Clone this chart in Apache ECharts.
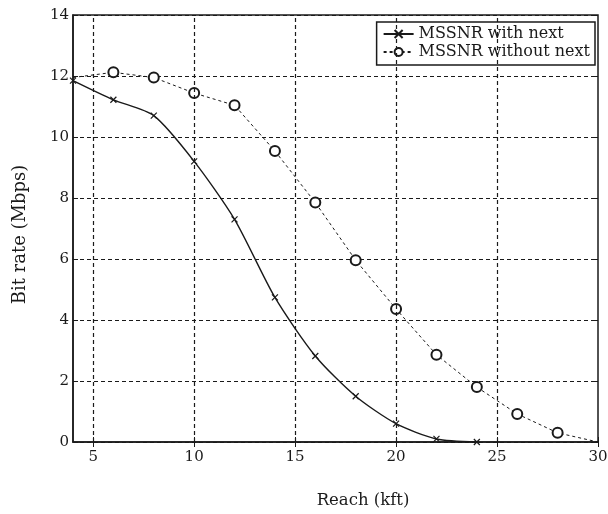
<!DOCTYPE html>
<html>
<head>
<meta charset="utf-8">
<script src="https://cdn.jsdelivr.net/npm/echarts@6/dist/echarts.min.js"></script>
<style>
  html, body { margin: 0; padding: 0; background: #fff; }
  #chart { width: 608px; height: 514px; }
</style>
</head>
<body>
<div id="chart"></div>
<script>
// 数据: Reach (kft) 与 Bit rate (Mbps)
const reachWithNext = [4, 6, 8, 10, 12, 14, 16, 18, 20, 22, 24]
const rateWithNext = [11.85, 11.22, 10.7, 9.2, 7.3, 4.74, 2.82, 1.5, 0.6, 0.1, 0.0]

const reachWithoutNext = [4, 6, 8, 10, 12, 14, 16, 18, 20, 22, 24, 26, 28, 30]
const rateWithoutNext = [11.95, 12.12, 11.95, 11.44, 11.04, 9.54, 7.85, 5.96, 4.36, 2.86, 1.8, 0.92, 0.3, 0.0]
// 端点无标记
const noMarkerWithout = [4, 30]

const xTickLabels = [5, 10, 15, 20, 25, 30]
const xGridLines = [5, 10, 15, 20, 25]

const FONT = 'DejaVu Serif'
const INK = '#1a1a1a'

const chart = echarts.init(document.getElementById('chart'))

const withNextData = reachWithNext.map((x, i) => [x, rateWithNext[i]])
const withoutNextData = reachWithoutNext.map((x, i) => {
  if (noMarkerWithout.includes(x)) {
    return { value: [x, rateWithoutNext[i]], symbol: 'none' }
  }
  return [x, rateWithoutNext[i]]
})

const option = {
  animation: false,
  backgroundColor: '#fff',
  textStyle: { fontFamily: FONT, color: INK },
  grid: {
    left: 73, right: 10, top: 15, bottom: 72,
    outerBoundsMode: 'none',
    show: true, borderColor: INK, borderWidth: 1.5, backgroundColor: 'transparent'
  },
  legend: {
    orient: 'vertical',
    right: 13,
    top: 22,
    itemGap: 2,
    itemWidth: 30,
    itemHeight: 10,
    padding: [4, 5, 5, 6],
    borderColor: INK,
    borderWidth: 1.5,
    backgroundColor: '#fff',
    textStyle: { fontFamily: FONT, fontSize: 16, color: INK },
    data: ['MSSNR with next', 'MSSNR without next']
  },
  xAxis: [
    {
      type: 'value',
      min: 4,
      max: 30,
      name: 'Reach (kft)',
      nameLocation: 'middle',
      nameGap: 50,
      nameTextStyle: { fontFamily: FONT, fontSize: 16.5, color: INK, padding: [0, 0, 0, 55] },
      axisLine: { show: true, lineStyle: { color: INK, width: 1.5 } },
      axisTick: { show: true, inside: true, length: 5, customValues: xTickLabels, lineStyle: { color: INK } },
      axisLabel: { customValues: xTickLabels, fontFamily: FONT, fontSize: 15, color: INK, margin: 8 },
      splitLine: { show: false }
    },
    {
      // 上边框刻度
      type: 'value',
      position: 'top',
      min: 4,
      max: 30,
      axisLine: { show: false },
      axisTick: { show: true, inside: true, length: 5, customValues: xTickLabels, lineStyle: { color: INK } },
      axisLabel: { show: false },
      splitLine: { show: false }
    }
  ],
  yAxis: [
    {
      type: 'value',
      min: 0,
      max: 14,
      interval: 2,
      name: 'Bit rate (Mbps)',
      nameLocation: 'middle',
      nameGap: 44,
      nameTextStyle: { fontFamily: FONT, fontSize: 18, color: INK, padding: [0, 12, 0, 0] },
      axisLine: { show: true, lineStyle: { color: INK, width: 1.5 } },
      axisTick: { show: true, inside: true, length: 5, lineStyle: { color: INK } },
      axisLabel: { fontFamily: FONT, fontSize: 15, color: INK, margin: 4 },
      splitLine: { show: true, lineStyle: { color: INK, type: [4, 3], width: 1.2 } }
    },
    {
      // 右边框刻度
      type: 'value',
      position: 'right',
      min: 0,
      max: 14,
      interval: 2,
      axisLine: { show: false },
      axisTick: { show: true, inside: true, length: 5, lineStyle: { color: INK } },
      axisLabel: { show: false },
      splitLine: { show: false }
    }
  ],
  series: [
    {
      name: 'MSSNR with next',
      type: 'line',
      data: withNextData,
      smooth: 0.25,
      symbol: 'path://M0,0L10,10M10,0L0,10',
      symbolSize: 6,
      lineStyle: { color: INK, width: 1.4 },
      itemStyle: { color: INK, borderColor: INK, borderWidth: 1.2 },
      z: 3,
      // 竖向网格线
      markLine: {
        silent: true,
        symbol: 'none',
        label: { show: false },
        lineStyle: { color: INK, type: [4, 3], width: 1.2 },
        data: xGridLines.map(v => ({ xAxis: v }))
      }
    },
    {
      name: 'MSSNR without next',
      type: 'line',
      data: withoutNextData,
      symbol: 'emptyCircle',
      symbolSize: 10,
      lineStyle: { color: INK, width: 1, type: [3, 3] },
      itemStyle: { color: INK, borderColor: INK, borderWidth: 1.6 },
      z: 3
    }
  ]
}

chart.setOption(option)
</script>
</body>
</html>
